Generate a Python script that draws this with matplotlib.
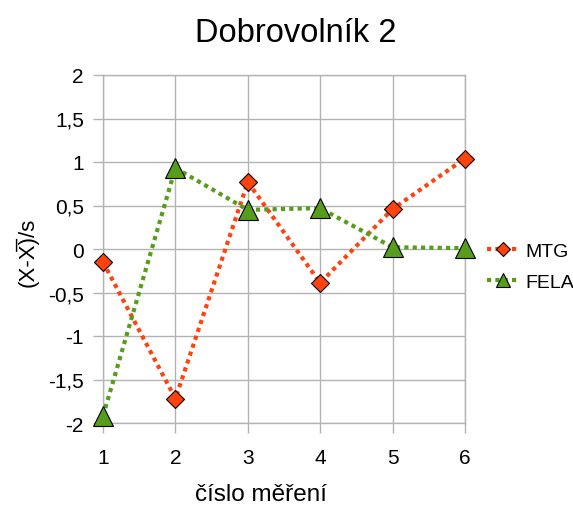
import matplotlib
matplotlib.use("Agg")
import matplotlib.pyplot as plt

plt.rcParams['font.family'] = ['Liberation Sans', 'DejaVu Sans']

x_vals = [1, 2, 3, 4, 5, 6]
mtg = [-0.15, -1.72, 0.77, -0.39, 0.46, 1.04]
fela = [-1.92, 0.93, 0.45, 0.47, 0.02, 0.01]
y_ticks = [-2, -1.5, -1, -0.5, 0, 0.5, 1, 1.5, 2]
y_ticklabels = ["-2", "-1,5", "-1", "-0,5", "0", "0,5", "1", "1,5", "2"]
series_names = ["MTG", "FELA"]
title = "Dobrovolník 2"
xlabel = "číslo měření"
ylabel = "(X-X\u0305)/s"

c_mtg = "#ff420e"
c_fela = "#579d1c"
grid_c = "#b3b3b3"

W, H = 573, 506
fig = plt.figure(figsize=(W / 100, H / 100), dpi=100)
ax = fig.add_axes([103 / W, 1 - 424 / H, (465 - 103) / W, (424 - 76) / H])

lw = 3.0
l1, = ax.plot(x_vals, mtg, color=c_mtg, lw=lw, dashes=(1, 1), dash_capstyle='butt',
              marker='D', markersize=9.5, markerfacecolor=c_mtg,
              markeredgecolor='black', markeredgewidth=0.8, zorder=3,
              clip_on=False, label=series_names[0])
l2, = ax.plot(x_vals, fela, color=c_fela, lw=lw, dashes=(1, 1), dash_capstyle='butt',
              marker='^', markersize=14, markerfacecolor=c_fela,
              markeredgecolor='black', markeredgewidth=0.8, zorder=3,
              clip_on=False, label=series_names[1])

ax.set_xlim(1, 6)
ax.set_ylim(-2, 2)
ax.set_xticks(x_vals)
ax.set_xticklabels([str(v) for v in x_vals])
ax.set_yticks(y_ticks)
ax.set_yticklabels(y_ticklabels)
ax.grid(True, color=grid_c, lw=1)
ax.set_axisbelow(True)
for s in ax.spines.values():
    s.set_color(grid_c)
    s.set_linewidth(1)
ax.tick_params(axis='both', direction='out', length=7.2, width=1, color=grid_c,
               labelsize=15, labelcolor='black')
ax.tick_params(axis='x', pad=11)
ax.tick_params(axis='y', pad=6.5)

fig.text(296 / W, 1 - 34 / H, title, ha='center', va='center', fontsize=23.5)
fig.text(261 / W, 1 - 495 / H, xlabel, ha='center', va='center', fontsize=17.5)
fig.text(27 / W, 1 - 252 / H, ylabel, ha='center', va='center', fontsize=16, rotation=90)

leg = fig.legend(handles=[l1, l2], loc='upper left', bbox_to_anchor=(487 / W, 1 - 243 / H),
                 frameon=False, fontsize=14, handlelength=1.6, handletextpad=0.35,
                 labelspacing=0.7, borderpad=0, borderaxespad=0, markerscale=0.75)

fig.savefig("out.png", dpi=100)
